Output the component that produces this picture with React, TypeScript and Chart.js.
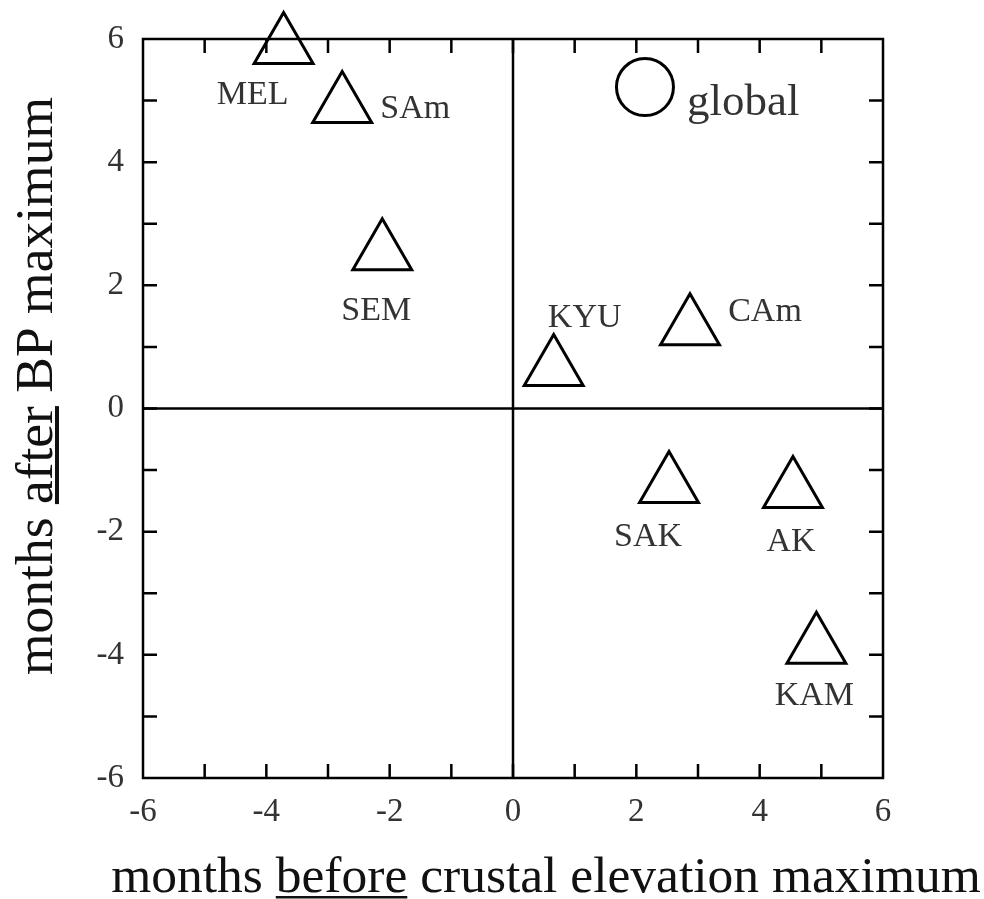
import React, { useEffect, useRef } from 'react';
import { Chart, registerables } from 'chart.js';

Chart.register(...registerables);

// ---- data ----
const regionNames = ['MEL', 'SAm', 'SEM', 'KYU', 'CAm', 'SAK', 'AK', 'KAM'];
const monthsBeforeElevation = [-3.72, -2.77, -2.12, 0.66, 2.87, 2.53, 4.54, 4.92];
const monthsAfterBP = [5.88, 4.92, 2.53, 0.65, 1.31, -1.25, -1.33, -3.86];

const globalNames = ['global'];
const globalBefore = [2.14];
const globalAfter = [5.22];

const axisMin = -6;
const axisMax = 6;
const labelStep = 2;
const minorStep = 1;

const xTitleParts = ['months ', 'before', ' crustal elevation maximum'];
const yTitleParts = ['months ', 'after', ' BP maximum'];

// ---- label placement (pixel offsets from marker, style only) ----
const regionLabelOffsets = [
  [-31, 58],
  [73, 12],
  [-6, 67],
  [31, -41],
  [75, -7],
  [-21, 61],
  [-2, 61],
  [-2, 59],
];
const globalLabelOffset = [42, 28];

const SERIF = "'Liberation Serif', 'Times New Roman', serif";

const framePlugin = {
  id: 'frameAndTicks',
  beforeDatasetsDraw(chart: any) {
    const { ctx, chartArea } = chart;
    const xs = chart.scales.x;
    const ys = chart.scales.y;
    const { left, right, top, bottom } = chartArea;
    ctx.save();
    ctx.strokeStyle = '#000';
    ctx.lineWidth = 2.5;
    ctx.lineCap = 'butt';
    ctx.strokeRect(left, top, right - left, bottom - top);
    const x0 = xs.getPixelForValue(0);
    const y0 = ys.getPixelForValue(0);
    ctx.beginPath();
    ctx.moveTo(x0, top);
    ctx.lineTo(x0, bottom);
    ctx.moveTo(left, y0);
    ctx.lineTo(right, y0);
    ctx.stroke();
    const tl = 14;
    ctx.beginPath();
    for (let v = axisMin + minorStep; v < axisMax; v += minorStep) {
      const px = xs.getPixelForValue(v);
      const py = ys.getPixelForValue(v);
      ctx.moveTo(px, bottom);
      ctx.lineTo(px, bottom - tl);
      ctx.moveTo(px, top);
      ctx.lineTo(px, top + tl);
      ctx.moveTo(left, py);
      ctx.lineTo(left + tl, py);
      ctx.moveTo(right, py);
      ctx.lineTo(right - tl, py);
    }
    ctx.stroke();
    ctx.restore();
  },
  afterDatasetsDraw(chart: any) {
    const { ctx } = chart;
    ctx.save();
    ctx.fillStyle = '#333';
    const meta0 = chart.getDatasetMeta(0);
    ctx.font = `34px ${SERIF}`;
    ctx.textAlign = 'center';
    ctx.textBaseline = 'alphabetic';
    meta0.data.forEach((el: any, i: number) => {
      const [dx, dy] = regionLabelOffsets[i];
      ctx.fillText(regionNames[i], el.x + dx, el.y + dy);
    });
    const meta1 = chart.getDatasetMeta(1);
    ctx.font = `45px ${SERIF}`;
    ctx.textAlign = 'left';
    meta1.data.forEach((el: any, i: number) => {
      ctx.fillText(globalNames[i], el.x + globalLabelOffset[0], el.y + globalLabelOffset[1]);
    });
    ctx.restore();
  },
  afterDraw(chart: any) {
    const { ctx } = chart;
    ctx.save();
    ctx.fillStyle = '#111';
    ctx.font = `51.5px ${SERIF}`;
    ctx.textBaseline = 'alphabetic';
    ctx.textAlign = 'left';
    const xFull = xTitleParts.join('');
    const xW = ctx.measureText(xFull).width;
    const xLeft = 546 - xW / 2;
    const xBase = 892;
    ctx.fillText(xFull, xLeft, xBase);
    const xu0 = ctx.measureText(xTitleParts[0]).width;
    const xuw = ctx.measureText(xTitleParts[1]).width;
    ctx.fillRect(xLeft + xu0, xBase + 4, xuw, 2.5);

    ctx.font = `53.5px ${SERIF}`;
    const yFull = yTitleParts.join('');
    ctx.translate(52, 386);
    ctx.rotate(-Math.PI / 2);
    const yW = ctx.measureText(yFull).width;
    const yLeft = -yW / 2;
    ctx.fillText(yFull, yLeft, 0);
    const yu0 = ctx.measureText(yTitleParts[0]).width;
    const yuw = ctx.measureText(yTitleParts[1]).width;
    ctx.fillRect(yLeft + yu0, 3, yuw, 4);
    ctx.restore();
  },
};

export default function App() {
  const canvasRef = useRef<HTMLCanvasElement | null>(null);

  useEffect(() => {
    const canvas = canvasRef.current;
    if (!canvas) return;
    const tickFont = { family: SERIF, size: 33 };
    const chart = new Chart(canvas, {
      type: 'scatter',
      data: {
        datasets: [
          {
            label: 'regions',
            data: regionNames.map((_, i) => ({ x: monthsBeforeElevation[i], y: monthsAfterBP[i] })),
            pointStyle: 'triangle',
            pointRadius: 34,
            pointHoverRadius: 34,
            borderWidth: 3,
            pointBorderWidth: 3,
            borderColor: '#000',
            pointBorderColor: '#000',
            backgroundColor: 'rgba(0,0,0,0)',
            pointBackgroundColor: 'rgba(0,0,0,0)',
            clip: false as any,
          },
          {
            label: 'global',
            data: globalNames.map((_, i) => ({ x: globalBefore[i], y: globalAfter[i] })),
            pointStyle: 'circle',
            pointRadius: 28.5,
            pointHoverRadius: 28.5,
            borderWidth: 3,
            pointBorderWidth: 3,
            borderColor: '#000',
            pointBorderColor: '#000',
            backgroundColor: 'rgba(0,0,0,0)',
            pointBackgroundColor: 'rgba(0,0,0,0)',
            clip: false as any,
          },
        ],
      },
      options: {
        responsive: false,
        animation: false,
        events: [],
        layout: { padding: { left: 0, top: 39, right: 101, bottom: 0 } },
        plugins: {
          legend: { display: false },
          tooltip: { enabled: false },
          title: { display: false },
        },
        scales: {
          x: {
            type: 'linear',
            min: axisMin,
            max: axisMax,
            grid: { display: false, drawTicks: false },
            border: { display: false },
            ticks: {
              stepSize: labelStep,
              autoSkip: false,
              maxRotation: 0,
              padding: 15,
              font: tickFont,
              color: '#333',
            },
            afterFit: (s: any) => {
              s.height = 121;
            },
          },
          y: {
            type: 'linear',
            min: axisMin,
            max: axisMax,
            grid: { display: false, drawTicks: false },
            border: { display: false },
            ticks: {
              stepSize: labelStep,
              autoSkip: false,
              padding: 19,
              font: tickFont,
              color: '#333',
            },
            afterFit: (s: any) => {
              s.width = 143;
            },
          },
        },
      },
      plugins: [framePlugin],
    });
    return () => chart.destroy();
  }, []);

  return (
    <div style={{ position: 'absolute', left: 0, top: 0, width: 984, height: 899, background: '#fff' }}>
      <canvas ref={canvasRef} width={984} height={899} style={{ display: 'block' }} />
    </div>
  );
}
